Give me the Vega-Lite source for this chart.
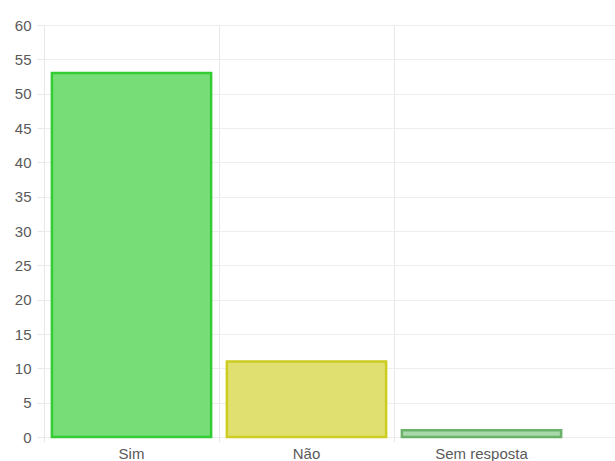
{
  "$schema": "https://vega.github.io/schema/vega-lite/v6.json",
  "autosize": "none",
  "width": 571,
  "height": 412,
  "padding": {"left": 44, "top": 25, "right": 0, "bottom": 24},
  "background": "white",
  "data": {"values": [
    {"resposta": "Sim", "valor": 53},
    {"resposta": "Não", "valor": 11},
    {"resposta": "Sem resposta", "valor": 1}
  ]},
  "mark": {"type": "bar", "strokeWidth": 2.5, "width": {"band": 0.91}},
  "encoding": {
    "x": {
      "field": "resposta", "type": "nominal", "sort": null,
      "scale": {"paddingInner": 0, "paddingOuter": 0.1314, "align": 0},
      "axis": {"title": null, "labelAngle": 0, "domain": false, "grid": true, "bandPosition": 0,
        "gridColor": "#e8e8e8", "tickColor": "#e8e8e8", "tickSize": 5, "labelPadding": 4,
        "labelFont": "Liberation Sans", "labelFontSize": 15, "labelColor": "#5a5a5a"}
    },
    "y": {
      "field": "valor", "type": "quantitative",
      "scale": {"domain": [0, 60], "nice": false},
      "axis": {"title": null, "values": [0,5,10,15,20,25,30,35,40,45,50,55,60], "domain": false,
        "gridColor": "#eeeeee", "tickColor": "#e8e8e8", "tickSize": 7, "labelPadding": 6,
        "labelFont": "Liberation Sans", "labelFontSize": 15, "labelColor": "#5a5a5a"}
    },
    "fill": {
      "field": "resposta", "type": "nominal", "legend": null,
      "scale": {"domain": ["Sim", "Não", "Sem resposta"], "range": ["#77dd77", "#e0e070", "#a9d8a9"]}
    },
    "stroke": {
      "field": "resposta", "type": "nominal", "legend": null,
      "scale": {"domain": ["Sim", "Não", "Sem resposta"], "range": ["#33cc33", "#cccc22", "#6ab26a"]}
    }
  },
  "config": {"view": {"stroke": null}}
}
